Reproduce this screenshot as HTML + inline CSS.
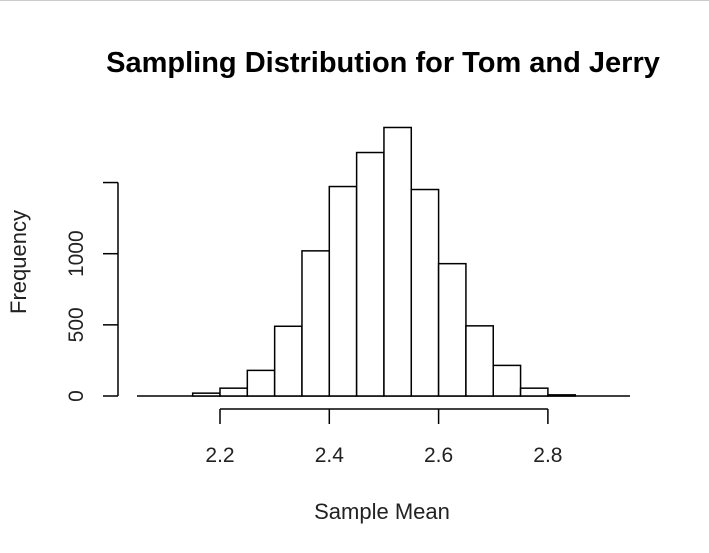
<!DOCTYPE html>
<html><head><style>body{margin:0;background:#fff}svg{display:block;font-family:"Liberation Sans",sans-serif}</style></head>
<body>
<svg id="c" width="709" height="553">
<line x1="0" y1="0.5" x2="709" y2="0.5" stroke="#ccc"/>
<text x="383" y="72" text-anchor="middle" font-size="29" font-weight="bold">Sampling Distribution for Tom and Jerry</text>
<text x="382" y="519" text-anchor="middle" font-size="22" fill="#222">Sample Mean</text>
<text transform="translate(26,262) rotate(-90)" text-anchor="middle" font-size="22" fill="#222">Frequency</text>
<line x1="137" y1="396" x2="630" y2="396" stroke="#000" stroke-width="1.5"/>
<g id="bars"></g><g id="axes"></g>
</svg>
<script>
const binStarts=[2.15,2.2,2.25,2.3,2.35,2.4,2.45,2.5,2.55,2.6,2.65,2.7,2.75,2.8];
const counts=[20,55,180,490,1020,1472,1711,1887,1451,930,493,215,55,8];
const xTicks=[2.2,2.4,2.6,2.8];
const yTicks=[0,500,1000,1500];
const binW=0.05;
const X=v=>220+(v-2.2)/0.2*109.3;
const Y=v=>396-v*0.1423;
const ns="http://www.w3.org/2000/svg";
const bars=document.getElementById('bars'),axes=document.getElementById('axes');
function mk(t,a,p){const e=document.createElementNS(ns,t);for(const k in a)e.setAttribute(k,a[k]);p.appendChild(e);return e;}
binStarts.forEach((b,i)=>{
 const r=mk('rect',{x:X(b),y:Y(counts[i]),width:X(b+binW)-X(b),height:396-Y(counts[i]),fill:'#fff',stroke:'#000','stroke-width':1.5},bars);
 
 
});
const xa=mk('line',{x1:X(xTicks[0]),y1:409,x2:X(xTicks[xTicks.length-1]),y2:409,stroke:'#000','stroke-width':1.5},axes);


xTicks.forEach(v=>{
 mk('line',{x1:X(v),y1:409,x2:X(v),y2:424,stroke:'#000','stroke-width':1.5},axes);
 const t=mk('text',{x:X(v),y:462,'text-anchor':'middle','font-size':21,fill:'#222'},axes);t.textContent=v.toFixed(1);
 
 
});
const ya=mk('line',{x1:118,y1:Y(yTicks[0]),x2:118,y2:Y(yTicks[yTicks.length-1]),stroke:'#000','stroke-width':1.5},axes);


yTicks.forEach(v=>{
 mk('line',{x1:103,y1:Y(v),x2:118,y2:Y(v),stroke:'#000','stroke-width':1.5},axes);
 if(v<1500){const t=mk('text',{transform:`translate(83,${Y(v)}) rotate(-90)`,'text-anchor':'middle','font-size':21,fill:'#222'},axes);t.textContent=v;
 
 }
});
</script>
</body></html>
